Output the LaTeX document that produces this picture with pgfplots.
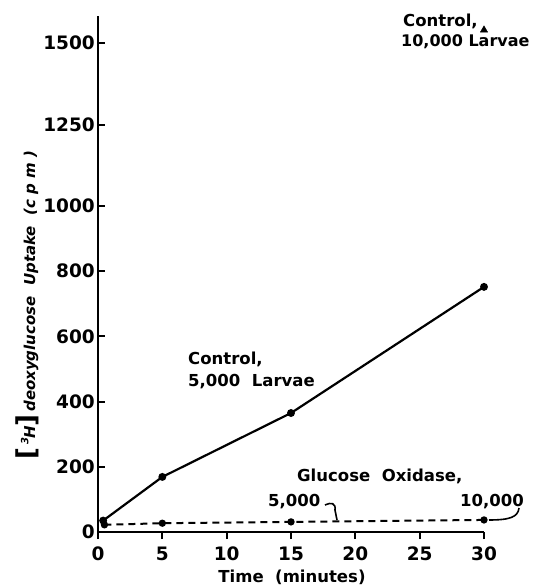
\documentclass[border=0pt]{standalone}
\usepackage{fontspec}
\setmainfont{DejaVu Sans}
\usepackage{pgfplots}
\pgfplotsset{compat=1.18}
\begin{document}
\begin{tikzpicture}[x=1pt,y=1pt]
\useasboundingbox (-98,-55) rectangle (435,532);
\begin{axis}[
  at={(0,0)}, anchor=south west,
  scale only axis, width=386pt, height=516pt,
  xmin=0, xmax=30, ymin=0, ymax=1583,
  clip=false,
  axis x line=bottom, axis y line=left,
  axis line style={-, line width=2.6pt},
  xtick={0,5,10,15,20,25,30},
  ytick={0,200,400,600,800,1000,1250,1500},
  tick align=inside,
  major tick length=7pt,
  every tick/.style={line width=2pt, black},
  x tick style={yshift=-7pt},
  tick label style={font=\fontsize{18.5}{18.5}\selectfont\bfseries},
  /pgf/number format/assume math mode=true,
  /pgf/number format/1000 sep={},
  yticklabel style={anchor=east, inner sep=0pt, xshift=-3pt},
  xticklabel style={anchor=north, inner sep=0pt, yshift=-15pt},
]
\addplot[line width=2.2pt, mark=*, mark size=2.8pt] coordinates {(0.4,35) (5,169) (15,365) (30,752)};
\addplot[line width=2pt, dash pattern=on 7pt off 5pt, mark=*, mark size=2.6pt, mark options={solid}] coordinates {(0.5,22) (5,27) (15,31) (30,37)};
\addplot[only marks, mark=triangle*, mark size=4.2pt] coordinates {(30,1540)};
\end{axis}
\begin{scope}[every node/.style={inner sep=0pt, font=\fontsize{16.5}{16.5}\selectfont\bfseries}]
\node[anchor=base west] at (305,505) {Control,};
\node[anchor=base west, font=\fontsize{16}{16}\selectfont\bfseries] at (303,485) {10,000 Larvae};
\node[anchor=base west] at (90,167) {Control,};
\node[anchor=base west] at (90,145) {5,000\ \ Larvae};
\node[anchor=base west] at (199,50) {Glucose\ \ Oxidase,};
\node[anchor=base west] at (170,25) {5,000};
\node[anchor=base west] at (362,25) {10,000};
\node[anchor=base] at (194,-50) {Time\ \ (minutes)};
\node[rotate=90, anchor=center, font=\fontsize{15}{15}\selectfont\bfseries\itshape] at (-71,227)
  {{\fontsize{26}{26}\selectfont\upshape[}\,\raisebox{0.45em}{\fontsize{10}{10}\selectfont 3}\kern-0.05em H{\fontsize{26}{26}\selectfont\upshape]}\,deoxyglucose\ \ Uptake\ \ (c p m )};
\end{scope}
\draw[line width=1.6pt] (227,27) .. controls (233,30) and (238,29) .. (237,22) -- (239,12);
\draw[line width=1.6pt] (421,24) .. controls (420,15) and (412,12) .. (391,12);
\end{tikzpicture}
\end{document}
